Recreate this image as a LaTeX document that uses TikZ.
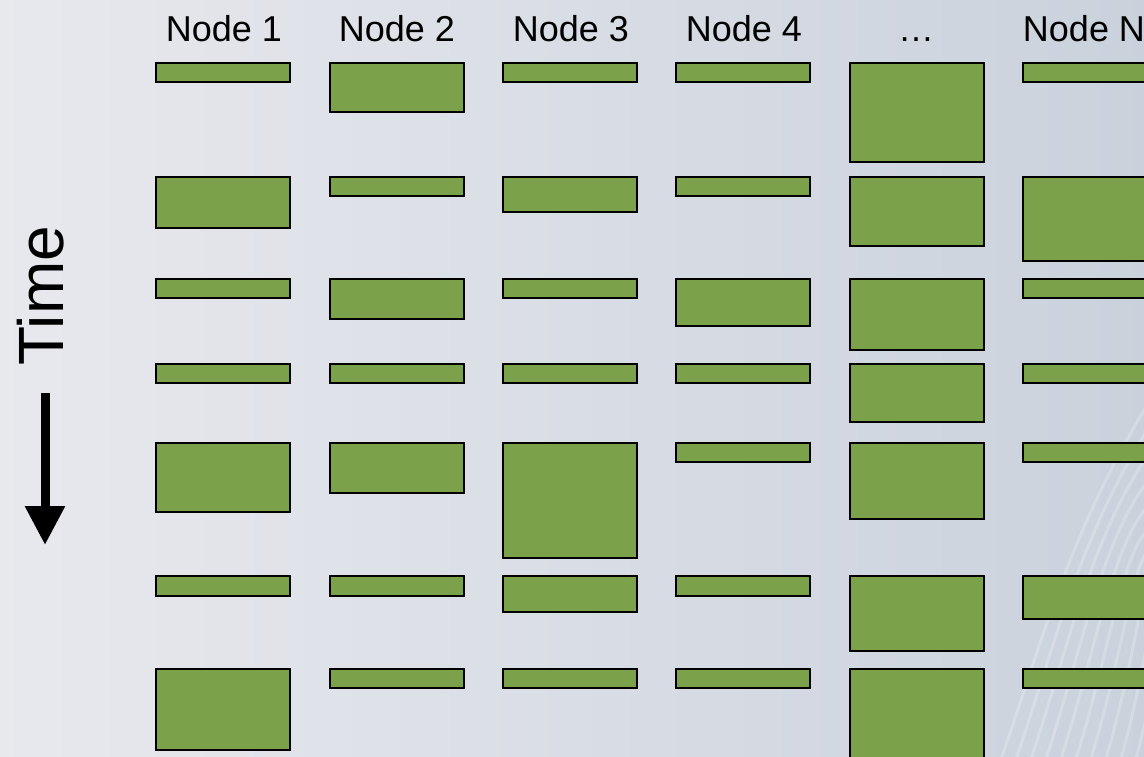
\documentclass[tikz,border=0pt]{standalone}
\usepackage{fontspec}
\setmainfont{Liberation Sans}
\usetikzlibrary{arrows.meta}
\definecolor{slotgreen}{HTML}{7BA14B}
\definecolor{bgA}{HTML}{EDEFF2}
\definecolor{bgB}{HTML}{E2E4EA}
\definecolor{bgC}{HTML}{D0D6E0}
\definecolor{bgD}{HTML}{B8C7D2}
\pgfdeclarehorizontalshading{slidebg}{100bp}{color(0bp)=(bgA); color(12bp)=(bgA);
  color(35bp)=(bgB); color(65bp)=(bgC); color(100bp)=(bgD)}
\tikzstyle{slot}=[draw, fill=slotgreen, line width=2.2pt, inner sep=0, anchor=north west,
                  minimum width=133.8pt]
\tikzstyle{head}=[font=\fontsize{36}{40}\selectfont, anchor=base, inner sep=0]
\tikzstyle{trace}=[draw=white, opacity=0.22, line width=3pt]
\tikzstyle{timearrow}=[line width=9pt, -{Triangle[width=38pt, length=39pt]}]

\begin{document}
\begin{tikzpicture}[x=1pt, y=-1pt]
    \useasboundingbox (0,0) rectangle (1144,757);
    % background with faint traces in the lower right
    \shade[shading=slidebg] (0,0) rectangle (1144,757);
    \begin{scope}
        \clip (0,0) rectangle (1144,757);
        \foreach \k in {0,...,9}
            \draw[trace] ({1000+\k*15},762) .. controls ({1040+\k*14},650) and ({1065+\k*12},540) .. (1150,{400+\k*26});
    \end{scope}

    % column headers
    \node[head] (h1) at (224,42) {Node 1};
    \node[head] (h2) at (397,42) {Node 2};
    \node[head] (h3) at (571,42) {Node 3};
    \node[head] (h4) at (744,42) {Node 4};
    \node[head] (h5) at (916,42) {…};
    \node[head] (h6) at (1084,42) {Node N};

    % time axis
    \node[font=\fontsize{64}{70}\selectfont, rotate=90, anchor=base, inner sep=0] (time) at (63,296) {Time};
    \coordinate (tstart) at (45,393);
    \coordinate (tend) at (45,545);
    \draw[timearrow] (tstart) -- (tend);

    % busy slots: row / top / outer heights per column
    \foreach \r/\top/\hs in {1/62/{21,51,21,21,101,21},
                             2/176/{53,21,37,21,71,86},
                             3/278/{21,42,21,49,73,21},
                             4/363/{21,21,21,21,60,21},
                             5/442/{71,52,117,21,78,21},
                             6/575/{22,22,38,22,77,45},
                             7/668/{83,21,21,21,100,21}}
        \foreach \h [count=\c] in \hs {
            \pgfmathsetmacro\colx{{155,329,502,675,849,1022}[\c-1]}
            \node[slot, minimum height={(\h-2.2)*1pt}] (t\r-\c) at (\colx,\top) {};
        }
\end{tikzpicture}
\end{document}
